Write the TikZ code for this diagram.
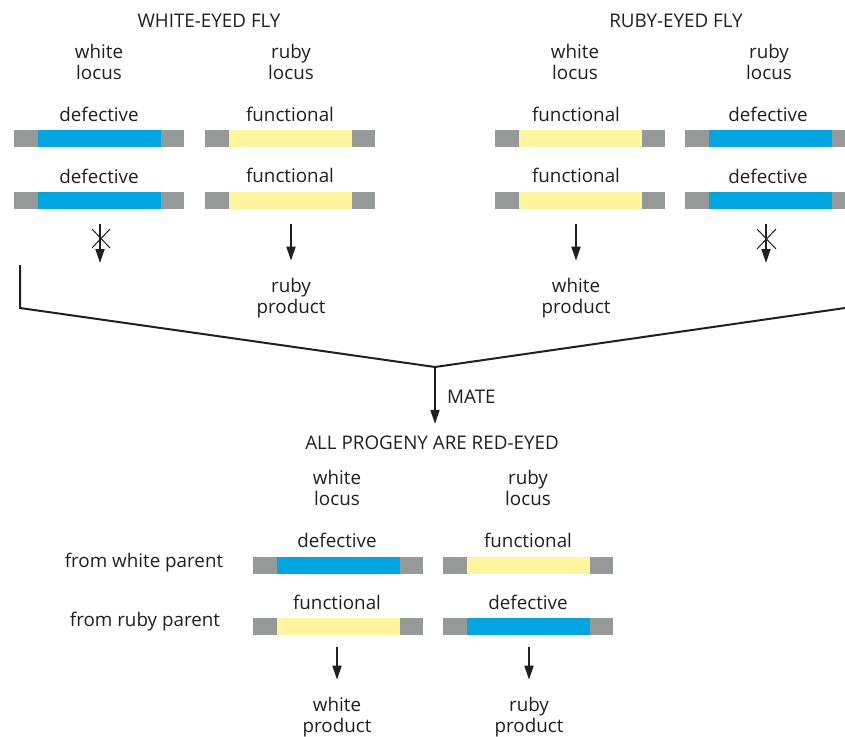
\documentclass[tikz,border=0pt]{standalone}
\usepackage{fontspec}
\setmainfont{Open Sans}
\usetikzlibrary{arrows.meta}
\usetikzlibrary{positioning}

\definecolor{endgray}{HTML}{959A98}
\definecolor{defblue}{HTML}{00A6E2}
\definecolor{funyellow}{HTML}{FFF59E}
\definecolor{txtgray}{HTML}{231F20}

\tikzset{
  lbl/.style={font=\fontsize{18.8}{21.5}\selectfont, text=txtgray, align=center, inner sep=0pt},
  chrom/.style={fill=endgray, draw=none, minimum width=170pt, minimum height=17pt, inner sep=0pt},
  defgene/.style={fill=defblue, draw=none, minimum width=123pt, minimum height=17pt, inner sep=0pt},
  fungene/.style={fill=funyellow, draw=none, minimum width=123pt, minimum height=17pt, inner sep=0pt},
  arr/.style={draw=txtgray, line width=1.8pt, -{Triangle[length=14pt,width=9pt]}},
  cross/.style={draw=txtgray, line width=1pt},
  mateline/.style={draw=txtgray, line width=2pt}
}

% one chromosome bar: name, centre, gene style
\newcommand{\chromo}[3]{%
  \node[chrom] (#1) at (#2) {};
  \node[#3] at (#1) {};
}

\begin{document}
\begin{tikzpicture}[x=1pt,y=-1pt]
\clip (0,0) rectangle (845,736);
\fill[white] (0,0) rectangle (845,736);

% white-eyed fly
\node[lbl] (wtitle) at (209,21) {WHITE-EYED FLY};
\node[lbl] (wloc1) at (99,62) {white\\locus};
\node[lbl] (rloc1) at (291,62) {ruby\\locus};
\node[lbl] (wd1) at (99,114) {defective};
\chromo{wb1}{99,138.5}{defgene}
\node[lbl] (wd2) at (99,176) {defective};
\chromo{wb2}{99,200}{defgene}
\node[lbl] (rf1) at (290,114) {functional};
\chromo{rb1}{290,138.5}{fungene}
\node[lbl] (rf2) at (290,175) {functional};
\chromo{rb2}{290,200}{fungene}

\coordinate (wstop) at (100,263);
\draw[arr] ([yshift=-15pt]wb2.south -| wstop) -- (wstop);
\draw[cross] (92,229) -- (110,248);
\draw[cross] (110,229) -- (92,248);
\node[lbl] (rprod) at (291,298) {ruby\\product};
\draw[arr] ([yshift=-15pt]rb2.south -| rprod) -- ([yshift=17pt]rprod.north);

% ruby-eyed fly
\node[lbl] (rtitle) at (676,21) {RUBY-EYED FLY};
\node[lbl] (wloc2) at (575,62) {white\\locus};
\node[lbl] (rloc2) at (769,62) {ruby\\locus};
\node[lbl] (wf3) at (576,114) {functional};
\chromo{wb3}{580,138.5}{fungene}
\node[lbl] (wf4) at (576,175) {functional};
\chromo{wb4}{580,200}{fungene}
\node[lbl] (rd3) at (768,114) {defective};
\chromo{rb3}{770,138.5}{defgene}
\node[lbl] (rd4) at (768,176) {defective};
\chromo{rb4}{770,200}{defgene}

\node[lbl] (wprod) at (576,298) {white\\product};
\draw[arr] ([yshift=-15pt]wb4.south -| wprod) -- ([yshift=17pt]wprod.north);
\coordinate (rstop) at (766,263);
\draw[arr] ([yshift=-15pt]rb4.south -| rstop) -- (rstop);
\draw[cross] (757,229) -- (776,249);
\draw[cross] (776,229) -- (757,249);

% mating
\coordinate (join) at (435,367);
\draw[mateline] (20,265) -- (20,308) -- (join) -- (845,308);
\node[lbl, anchor=west] (mate) at (447,397) {MATE};
\node[lbl] (progeny) at (432,443) {ALL PROGENY ARE RED-EYED};
\draw[arr, line cap=butt] (join) -- ([yshift=12pt]progeny.north -| join);

% progeny
\node[lbl] (wloc5) at (337,488) {white\\locus};
\node[lbl] (rloc5) at (528,488) {ruby\\locus};
\node[lbl] (fromw) at (144,563) {from white parent};
\node[lbl] (fromr) at (145,622) {from ruby parent};
\node[lbl] (wd5) at (337,540) {defective};
\chromo{wb5}{338,565}{defgene}
\node[lbl] (wf6) at (337,602) {functional};
\chromo{wb6}{338,626}{fungene}
\node[lbl] (rf5) at (528,540) {functional};
\chromo{rb5}{528,565}{fungene}
\node[lbl] (rd6) at (528,602) {defective};
\chromo{rb6}{528,626}{defgene}

\node[lbl] (wprod2) at (337,717) {white\\product};
\node[lbl] (rprod2) at (529,717) {ruby\\product};
\draw[arr] ([yshift=-12pt]wb6.south -| wprod2) -- ([yshift=17pt]wprod2.north);
\draw[arr] ([yshift=-12pt]rb6.south -| rprod2) -- ([yshift=17pt]rprod2.north);

\end{tikzpicture}
\end{document}
